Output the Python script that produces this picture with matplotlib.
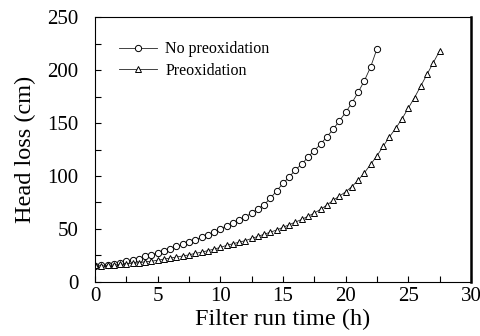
import numpy as np
import matplotlib.pyplot as plt
from matplotlib.ticker import MultipleLocator

plt.rcParams['font.family'] = ['Liberation Serif', 'DejaVu Serif']

# DATA (0.5 h steps)
t_no = [i * 0.5 for i in range(46)]
head_no = [15, 15.5, 16, 17, 18, 19.5, 20.5, 22, 24, 25.5,
           27.5, 29.5, 31.5, 33.5, 35.5, 37.5, 40, 42, 44.5, 47,
           50, 53, 56, 58.5, 61.5, 65, 69, 73, 79, 86,
           93, 99, 106, 111, 118, 124, 130, 137, 144, 152,
           160, 169, 179, 190, 203, 220]

t_pre = [i * 0.5 for i in range(56)]
head_pre = [16, 15, 15.5, 16, 16.5, 17, 17.5, 18, 19, 19.5,
            20.5, 21.5, 22.5, 23.5, 24.5, 25.5, 27, 28, 29.5, 31,
            32.5, 34.5, 36, 37.5, 39, 41, 43, 45, 47, 49,
            51.5, 54, 56.5, 59, 62, 65, 68.5, 72.5, 77, 81,
            85, 90, 96, 103, 111, 119, 128, 137, 145, 154,
            164, 174, 185, 196, 207, 218]

fig = plt.figure(figsize=(4.8, 3.36), dpi=100)
ax = fig.add_axes([0.198, 0.161, 0.783, 0.788])

ax.plot(t_no, head_no, '-', color='#222222', linewidth=0.6, marker='o',
        markersize=4.5, markerfacecolor='white', markeredgecolor='black',
        markeredgewidth=0.7, label='No preoxidation')
ax.plot(t_pre, head_pre, '-', color='#222222', linewidth=0.6, marker='^',
        markersize=5, markerfacecolor='white', markeredgecolor='black',
        markeredgewidth=0.7, label='Preoxidation')

ax.set_xlim(0, 30)
ax.set_ylim(0, 250)
ax.xaxis.set_major_locator(MultipleLocator(5))
ax.xaxis.set_minor_locator(MultipleLocator(2.5))
ax.yaxis.set_major_locator(MultipleLocator(50))
ax.yaxis.set_minor_locator(MultipleLocator(25))
ax.tick_params(which='both', direction='in', top=False, right=False,
               labelsize=15)
ax.tick_params(axis='y', pad=12)
ax.tick_params(axis='x', pad=4)
ax.tick_params(which='major', length=4, width=0.8)
ax.tick_params(which='minor', length=4, width=0.8)

for side in ['left', 'bottom', 'top']:
    ax.spines[side].set_linewidth(0.8)
ax.spines['right'].set_linewidth(1.8)

ax.set_xlabel('Filter run time (h)', fontsize=17.5, labelpad=2)
ax.set_ylabel('Head loss (cm)', fontsize=17.5, labelpad=8)

ax.legend(loc='upper left', frameon=False, fontsize=11.5, handlelength=2.4,
          handletextpad=0.5, labelspacing=0.35, borderaxespad=1.0,
          borderpad=0.5)

fig.savefig('out.png', dpi=100)
